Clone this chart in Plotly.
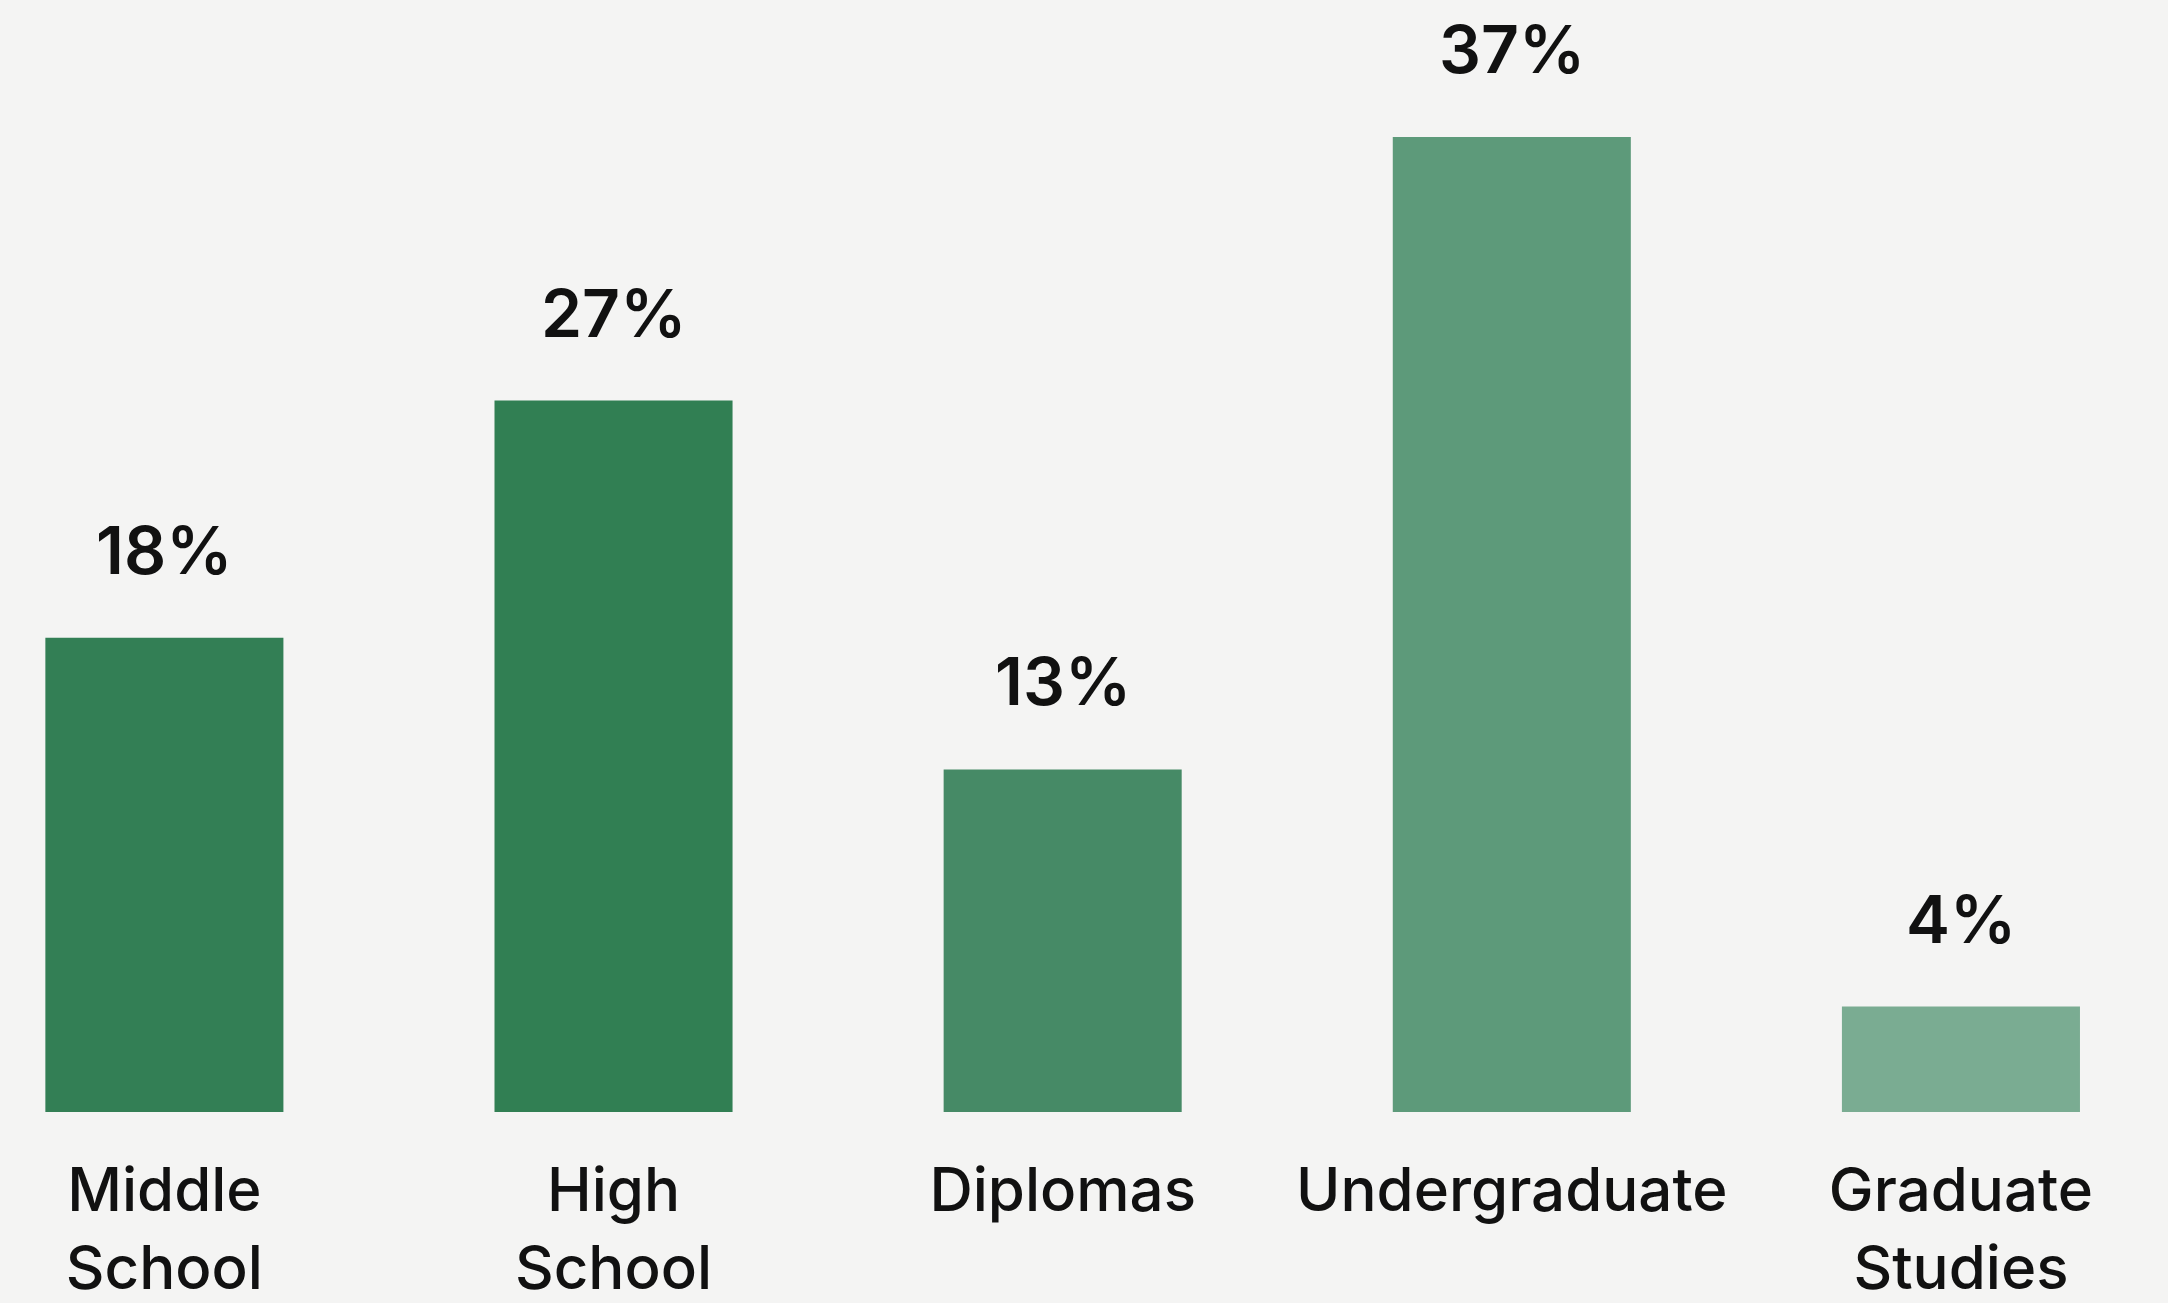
import plotly.graph_objects as go

# Share of respondents by highest level of education
categories = ["Middle<br>School", "High<br>School", "Diplomas", "Undergraduate", "Graduate<br>Studies"]
shares = [18, 27, 13, 37, 4]
bar_colors = ["#337f55", "#317f53", "#468a66", "#5d9a7a", "#7aac92"]

FONT = "Inter"

fig = go.Figure(
    go.Bar(
        x=list(range(len(categories))),
        y=shares,
        marker=dict(color=bar_colors, line=dict(width=0)),
        width=0.53,
        hoverinfo="skip",
    )
)

# Percentage labels above each bar
for i, v in enumerate(shares):
    fig.add_annotation(
        x=i, y=v, text=f"{v}%", showarrow=False,
        yanchor="bottom", yshift=46,
        font=dict(family=FONT, size=66, color="#111111", weight=600),
    )

fig.update_layout(
    width=2168, height=1303,
    margin=dict(l=0, r=0, t=0, b=191),
    paper_bgcolor="#f4f4f3",
    plot_bgcolor="#f4f4f3",
    showlegend=False,
    xaxis=dict(
        range=[-0.366, 4.461],
        tickvals=list(range(len(categories))),
        ticktext=categories,
        showgrid=False, zeroline=False, showline=False,
        ticks="", ticklabelstandoff=38,
        tickfont=dict(family=FONT, size=60, color="#111111", weight=500),
        fixedrange=True,
    ),
    yaxis=dict(
        range=[0, 42.2],
        visible=False,
        fixedrange=True,
    ),
)

fig.write_html("out.html")
